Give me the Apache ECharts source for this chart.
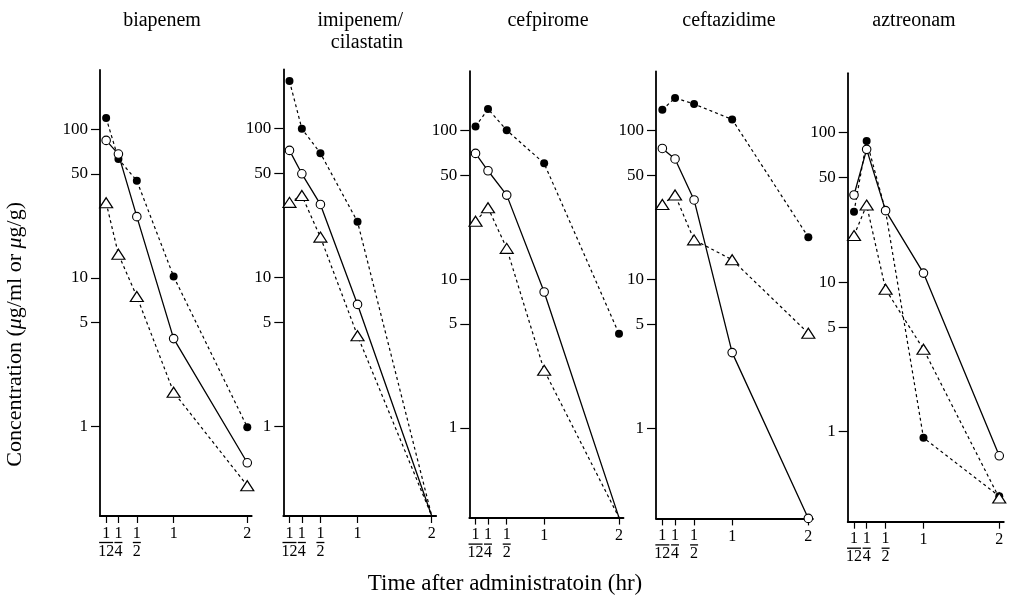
<!DOCTYPE html>
<html>
<head>
<meta charset="utf-8">
<title>Concentration after administration</title>
<script src="https://cdn.jsdelivr.net/npm/echarts@6/dist/echarts.min.js"></script>
<style>
  html, body { margin: 0; padding: 0; background: #fff; }
  #chart { width: 1010px; height: 600px; }
</style>
</head>
<body>
<div id="chart"></div>
<script>
// sampling times (hr) and the labels under the x axis
const times = [1 / 12, 1 / 4, 1 / 2, 1, 2];
const timeLabels = ['1/12', '1/4', '1/2', '1', '2'];
const yTicks = [1, 5, 10, 50, 100];

const drugs = ['biapenem', 'imipenem/\ncilastatin', 'cefpirome', 'ceftazidime', 'aztreonam'];

// filled circles (dashed line)
const filledVals = [
  [119, 63, 45, 10.2, 0.99],
  [209, 100, 68.5, 23.7, 0.25],
  [106, 139, 100, 60, 4.3],
  [138, 166, 151, 119, 19.3],
  [29.6, 88, 29.9, 0.91, 0.37]
];
// open circles (solid line)
const openVals = [
  [84, 68, 25.8, 3.9, 0.57],
  [71.5, 49.8, 31, 6.6, 0.25],
  [70, 53.5, 36.7, 8.2, 0.25],
  [76, 64.6, 34.3, 3.24, 0.25],
  [38.3, 77.4, 30.1, 11.5, 0.69]
];
// triangles (dashed line)
const triVals = [
  [32, 14.4, 7.5, 1.7, 0.4],
  [32, 35.6, 18.7, 4.07, 0.25],
  [24.5, 30.2, 16.1, 2.44, 0.25],
  [32, 37, 18.5, 13.6, 4.37],
  [20.5, 32.8, 8.97, 3.56, 0.36]
];
// points drawn as line ends only (below detection), index into times
const filledHidden = [[], [4], [], [], []];
const openHidden = [[], [4], [4], [], []];
const triHidden = [[], [4], [4], [], []];

const font = 'Liberation Serif';

// panel boxes: [left, top, width, height]
const boxes = [
  [100, 70, 151.7, 446],
  [283.3, 69.5, 152.9, 446.5],
  [469.3, 71.1, 154.2, 446.5],
  [656, 71.4, 156.9, 447],
  [847.7, 73.2, 156.1, 448.5]
];
const titleX = [162, 403, 548, 729, 914];

function timeLabel(v) {
  let i = times.findIndex(t => Math.abs(t - v) < 1e-6);
  if (i < 0) return '';
  let s = timeLabels[i];
  if (s.indexOf('/') < 0) return s;
  let parts = s.split('/');
  let bar = parts[1].length > 1 ? 'bar2' : 'bar1';
  return '{n|' + parts[0] + '}\n{' + bar + '| }\n{d|' + parts[1] + '}';
}

const grids = [], xAxes = [], yAxes = [], series = [], titles = [];

boxes.forEach((b, i) => {
  grids.push({ left: b[0], top: b[1], width: b[2], height: b[3] });
  xAxes.push({
    type: 'value', gridIndex: i, min: 0, max: 2.06,
    axisLine: { lineStyle: { color: '#000', width: 1.8 } },
    axisTick: { customValues: times, length: 7, lineStyle: { color: '#000', width: 1.2 } },
    axisLabel: {
      customValues: times, margin: 10, color: '#000', fontFamily: font, fontSize: 16,
      hideOverlap: false, showMinLabel: true, showMaxLabel: true,
      formatter: timeLabel,
      rich: {
        n: { fontFamily: font, fontSize: 16, lineHeight: 15, color: '#000' },
        d: { fontFamily: font, fontSize: 16, lineHeight: 15, color: '#000' },
        bar1: { width: 8, height: 1.3, lineHeight: 3, fontSize: 1, backgroundColor: '#000' },
        bar2: { width: 14, height: 1.3, lineHeight: 3, fontSize: 1, backgroundColor: '#000' }
      }
    },
    splitLine: { show: false }
  });
  yAxes.push({
    type: 'log', gridIndex: i, min: 0.25, max: 250,
    axisLine: { lineStyle: { color: '#000', width: 1.8 } },
    axisTick: { customValues: yTicks, length: 9, lineStyle: { color: '#000', width: 1.2 } },
    axisLabel: { customValues: yTicks, margin: 12, color: '#000', fontFamily: font, fontSize: 17, hideOverlap: false },
    splitLine: { show: false }
  });
  titles.push({
    text: drugs[i], left: titleX[i], top: 10, padding: 0,
    textAlign: i === 1 ? 'right' : 'center',
    textStyle: { fontFamily: font, fontSize: 20, fontWeight: 'normal', color: '#000', lineHeight: 22 }
  });

  const mk = (vals, hidden) => times.map((t, j) => {
    let item = { value: [t, vals[j]] };
    if (hidden.indexOf(j) >= 0) item.symbol = 'none';
    return item;
  });

  series.push({
    type: 'line', xAxisIndex: i, yAxisIndex: i, clip: false,
    data: mk(filledVals[i], filledHidden[i]),
    symbol: 'circle', symbolSize: 8,
    itemStyle: { color: '#000' },
    lineStyle: { color: '#000', width: 1.2, type: [3, 3] }
  });
  series.push({
    type: 'line', xAxisIndex: i, yAxisIndex: i, clip: false,
    data: mk(triVals[i], triHidden[i]),
    symbol: 'triangle', symbolSize: [13, 10],
    itemStyle: { color: '#fff', borderColor: '#000', borderWidth: 1.2 },
    lineStyle: { color: '#000', width: 1.2, type: [3, 3] }
  });
  series.push({
    type: 'line', xAxisIndex: i, yAxisIndex: i, clip: false,
    data: mk(openVals[i], openHidden[i]),
    symbol: 'circle', symbolSize: 8.5,
    itemStyle: { color: '#fff', borderColor: '#000', borderWidth: 1.1 },
    lineStyle: { color: '#000', width: 1.3 }
  });
});

titles.push({
  text: 'Time after administratoin (hr)', left: 505, top: 572, padding: 0, textAlign: 'center',
  textStyle: { fontFamily: font, fontSize: 23, fontWeight: 'normal', color: '#000' }
});

const myChart = echarts.init(document.getElementById('chart'));
myChart.setOption({
  animation: false,
  backgroundColor: '#fff',
  title: titles,
  grid: grids,
  xAxis: xAxes,
  yAxis: yAxes,
  series: series,
  graphic: [{
    type: 'text', left: 4, top: 202, rotation: Math.PI / 2,
    style: {
      text: 'Concentration ({i|μ}g/ml or {i|μ}g/g)',
      font: '22px "Liberation Serif"', fill: '#000',
      rich: { i: { fontFamily: font, fontSize: 22, fontStyle: 'italic', fill: '#000' } }
    }
  }]
});
</script>
</body>
</html>
